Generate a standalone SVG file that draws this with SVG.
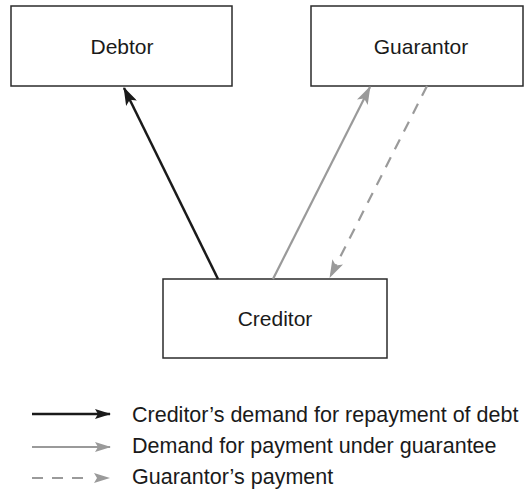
<svg xmlns="http://www.w3.org/2000/svg" width="528" height="492" viewBox="0 0 528 492">
<style>
.box{fill:#fff;stroke:#2b2b2b;stroke-width:1.5}
.lbl{font-family:"Liberation Sans",Arial,sans-serif;font-size:21px;fill:#1a1a1a}
.leg{font-size:21.5px}
.blk{stroke:#1a1a1a;stroke-width:2.5;fill:none}
.gry{stroke:#9a9a9a;stroke-width:2.2;fill:none}
.dsh{stroke:#9a9a9a;stroke-width:2.2;fill:none;stroke-dasharray:11 9}
</style>
<defs>
<marker id="ab" markerUnits="userSpaceOnUse" viewBox="0 0 18 12" refX="17" refY="6" markerWidth="18" markerHeight="12" orient="auto">
<path d="M0,0 L18,6 L0,12 L4,6 z" fill="#1a1a1a"/>
</marker>
<marker id="ag" markerUnits="userSpaceOnUse" viewBox="0 0 18 12" refX="17" refY="6" markerWidth="18" markerHeight="12" orient="auto">
<path d="M0,0 L18,6 L0,12 L4,6 z" fill="#9a9a9a"/>
</marker>
<marker id="lb" markerUnits="userSpaceOnUse" viewBox="0 0 16 10" refX="15" refY="5" markerWidth="16" markerHeight="10" orient="auto">
<path d="M0,0 L16,5 L0,10 L3,5 z" fill="#1a1a1a"/>
</marker>
<marker id="lg" markerUnits="userSpaceOnUse" viewBox="0 0 16 10" refX="15" refY="5" markerWidth="16" markerHeight="10" orient="auto">
<path d="M0,0 L16,5 L0,10 L3,5 z" fill="#9a9a9a"/>
</marker>
</defs>
<rect width="528" height="492" fill="#fff"/>
<g id="debtor">
<rect class="box" x="11" y="6" width="221" height="80"/>
<text class="lbl" x="122" y="54" text-anchor="middle">Debtor</text>
</g>
<g id="guarantor">
<rect class="box" x="311" y="6" width="212" height="80"/>
<text class="lbl" x="421" y="54" text-anchor="middle">Guarantor</text>
</g>
<g id="creditor">
<rect class="box" x="163" y="279" width="224" height="79"/>
<text class="lbl" x="275" y="326" text-anchor="middle">Creditor</text>
</g>
<g id="connectors">
<line class="blk" x1="218" y1="279" x2="124" y2="88" marker-end="url(#ab)"/>
<line class="gry" x1="273" y1="279" x2="370" y2="87" marker-end="url(#ag)"/>
<line class="dsh" x1="427" y1="86" x2="330" y2="277" marker-end="url(#ag)"/>
</g>
<g id="legend">
<line class="blk" x1="32" y1="414" x2="110" y2="414" marker-end="url(#lb)"/>
<line class="gry" x1="32" y1="447" x2="110" y2="447" marker-end="url(#lg)"/>
<line class="dsh" x1="32" y1="478" x2="88" y2="478"/>
<path d="M94,473 L110,478 L94,483 L97,478 z" fill="#9a9a9a"/>
<text class="lbl leg" x="132" y="422">Creditor’s demand for repayment of debt</text>
<text class="lbl leg" x="132" y="453">Demand for payment under guarantee</text>
<text class="lbl leg" x="132" y="484">Guarantor’s payment</text>
</g>
</svg>
